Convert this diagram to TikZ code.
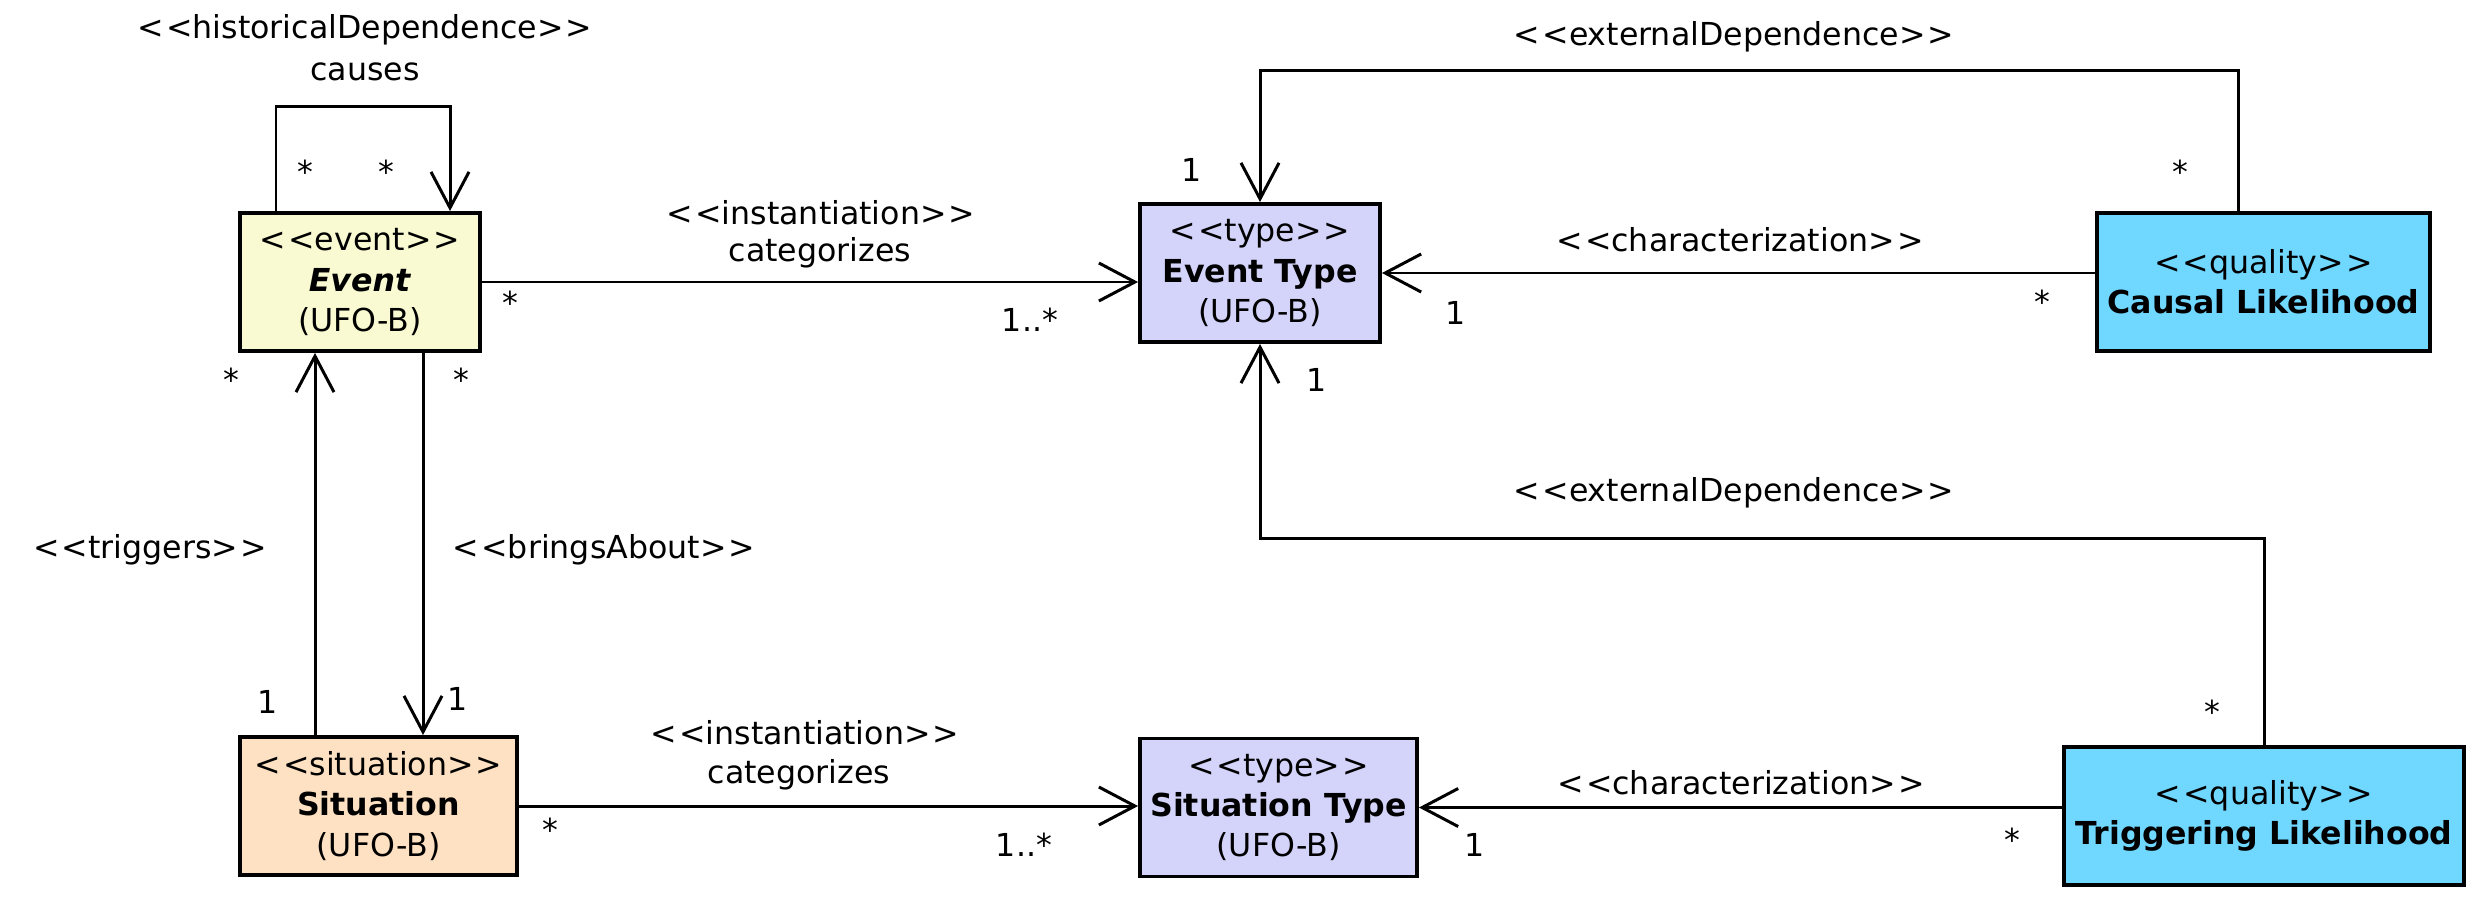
\documentclass[tikz,border=0pt]{standalone}
\usepackage{fontspec}
\setmainfont{DejaVu Sans}
\usetikzlibrary{arrows.meta}

\definecolor{eventfill}{HTML}{FAFAD2}
\definecolor{situfill}{HTML}{FDE1C2}
\definecolor{typefill}{HTML}{D4D4FA}
\definecolor{qualfill}{HTML}{70D7FF}

% Stereotyp ohne Ligatur
\newcommand{\stereo}[1]{<\kern0.6pt<#1>\kern0.6pt>}

\begin{document}
\begin{tikzpicture}[font=\fontsize{9}{11.4}\selectfont,
  cls/.style={draw,line width=1.1pt,align=center,inner sep=0pt,minimum height=1.38cm},
  assoc/.style={line width=0.85pt,-{Straight Barb[length=3.6mm,width=3.8mm]}},
  lbl/.style={inner sep=1pt}]
  \useasboundingbox (0,0) rectangle (24.75,8.97);

  % Klassen
  \node[cls,fill=eventfill,minimum width=2.40cm] (Event) at (3.60,6.15)
    {\stereo{event}\\\textbf{\textit{Event}}\\(UFO-B)};
  \node[cls,fill=situfill,minimum width=2.77cm] (Situation) at (3.785,0.91)
    {\stereo{situation}\\\textbf{Situation}\\(UFO-B)};
  \node[cls,fill=typefill,minimum width=2.40cm] (EventType) at (12.60,6.24)
    {\stereo{type}\\\textbf{Event Type}\\(UFO-B)};
  \node[cls,fill=typefill,minimum width=2.77cm] (SituationType) at (12.785,0.895)
    {\stereo{type}\\\textbf{Situation Type}\\(UFO-B)};
  \node[cls,fill=qualfill,minimum width=3.33cm] (CausalLikelihood) at (22.635,6.15)
    {\stereo{quality}\\\textbf{Causal Likelihood}};
  \node[cls,fill=qualfill,minimum width=4.00cm] (TriggeringLikelihood) at (22.64,0.81)
    {\stereo{quality}\\\textbf{Triggering Likelihood}};

  % historicalDependence: Event -> Event
  \draw[assoc] ([xshift=-8.4mm]Event.north) -- ++(0,1.05) -| ([xshift=9mm]Event.north);
  \node[lbl] (histStereo) at (3.65,8.67) {\stereo{historicalDependence}};
  \node[lbl] (histName) at (3.65,8.25) {causes};
  \node[lbl] (histSrc) at (3.05,7.25) {*};
  \node[lbl] (histTgt) at (3.86,7.25) {*};

  % instantiation: Event -> Event Type
  \draw[assoc] (Event.east) -- (Event.east -| EventType.west);
  \node[lbl] (instStereoA) at (8.21,6.84) {\stereo{instantiation}};
  \node[lbl] (instNameA) at (8.20,6.44) {categorizes};
  \node[lbl] (instSrcA) at (5.10,5.94) {*};
  \node[lbl] (instTgtA) at (10.30,5.77) {1..*};

  % triggers: Situation -> Event
  \draw[assoc] ([xshift=-4.5mm]Event.south |- Situation.north) -- ([xshift=-4.5mm]Event.south);
  \node[lbl] (trigStereo) at (1.50,3.47) {\stereo{triggers}};
  \node[lbl] (trigTgt) at (2.31,5.17) {*};
  \node[lbl] (trigSrc) at (2.68,1.95) {1};

  % bringsAbout: Event -> Situation
  \draw[assoc] ([xshift=6.3mm]Event.south) -- ([xshift=6.3mm]Event.south |- Situation.north);
  \node[lbl] (bringStereo) at (6.04,3.47) {\stereo{bringsAbout}};
  \node[lbl] (bringSrc) at (4.61,5.17) {*};
  \node[lbl] (bringTgt) at (4.58,1.98) {1};

  % instantiation: Situation -> Situation Type
  \draw[assoc] (Situation.east) -- (Situation.east -| SituationType.west);
  \node[lbl] (instStereoB) at (8.05,1.64) {\stereo{instantiation}};
  \node[lbl] (instNameB) at (7.99,1.22) {categorizes};
  \node[lbl] (instSrcB) at (5.50,0.67) {*};
  \node[lbl] (instTgtB) at (10.24,0.52) {1..*};

  % characterization: Causal Likelihood -> Event Type
  \draw[assoc] (CausalLikelihood.west |- EventType.east) -- (EventType.east);
  \node[lbl] (charStereoA) at (17.40,6.57) {\stereo{characterization}};
  \node[lbl] (charSrcA) at (20.42,5.95) {*};
  \node[lbl] (charTgtA) at (14.56,5.84) {1};

  % externalDependence: Causal Likelihood -> Event Type
  \draw[assoc] ([xshift=-2.55mm]CausalLikelihood.north) -- ++(0,1.41) -| (EventType.north);
  \node[lbl] (extStereoA) at (17.34,8.60) {\stereo{externalDependence}};
  \node[lbl] (extSrcA) at (21.80,7.25) {*};
  \node[lbl] (extTgtA) at (11.92,7.27) {1};

  % externalDependence: Triggering Likelihood -> Event Type
  \draw[assoc] (TriggeringLikelihood.north) -- ++(0,2.07) -| (EventType.south);
  \node[lbl] (extStereoB) at (17.34,4.04) {\stereo{externalDependence}};
  \node[lbl] (extSrcB) at (22.12,1.85) {*};
  \node[lbl] (extTgtB) at (13.17,5.17) {1};

  % characterization: Triggering Likelihood -> Situation Type
  \draw[assoc] (TriggeringLikelihood.west |- SituationType.east) -- (SituationType.east);
  \node[lbl] (charStereoB) at (17.41,1.14) {\stereo{characterization}};
  \node[lbl] (charSrcB) at (20.12,0.57) {*};
  \node[lbl] (charTgtB) at (14.75,0.52) {1};
\end{tikzpicture}
\end{document}
